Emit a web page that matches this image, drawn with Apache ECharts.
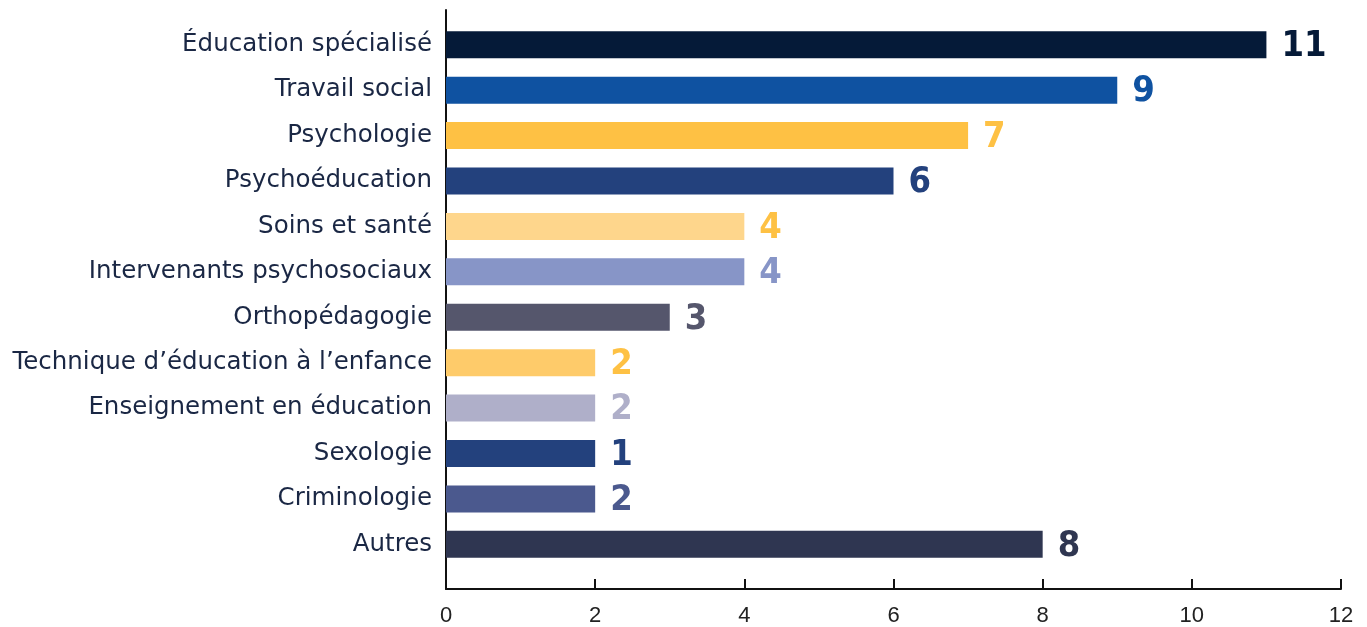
<!DOCTYPE html>
<html>
<head>
<meta charset="utf-8">
<script src="https://cdn.jsdelivr.net/npm/echarts@6/dist/echarts.min.js"></script>
<style>
  html, body { margin: 0; padding: 0; background: #fff; }
  #main { width: 1367px; height: 627px; }
</style>
</head>
<body>
<div id="main"></div>
<script>
// catégories (de haut en bas)
var categories = [
    "Éducation spécialisé", "Travail social", "Psychologie", "Psychoéducation",
    "Soins et santé", "Intervenants psychosociaux", "Orthopédagogie",
    "Technique d’éducation à l’enfance", "Enseignement en éducation",
    "Sexologie", "Criminologie", "Autres"
];
// longueur des barres
var barValues = [11, 9, 7, 6, 4, 4, 3, 2, 2, 2, 2, 8];
// étiquettes affichées au bout des barres
var barLabels = ["11", "9", "7", "6", "4", "4", "3", "2", "2", "1", "2", "8"];
var barColors = ["#051a38", "#0f52a1", "#fec144", "#23417d", "#fed68c", "#8795c7",
                 "#55566c", "#fecb6a", "#afafc9", "#23417d", "#4b598e", "#2f3651"];
var labelColors = ["#051a38", "#0f52a1", "#fec144", "#23417d", "#fec144", "#8795c7",
                   "#55566c", "#fec144", "#afafc9", "#23417d", "#4b598e", "#2f3651"];
var xTicks = [0, 2, 4, 6, 8, 10, 12];

var chart = echarts.init(document.getElementById("main"));

var data = barValues.map(function (v, i) {
    return {
        value: v,
        itemStyle: { color: barColors[i] },
        label: { color: labelColors[i] }
    };
});

var option = {
    animation: false,
    grid: [
        { left: 446, right: 26, top: 22, bottom: 60 },   // barres
        { left: 446, right: 26, top: 10, bottom: 35 }    // axes visibles
    ],
    xAxis: [
        { gridIndex: 0, type: "value", min: 0, max: 12, show: false },
        {
            gridIndex: 1, type: "value",
            min: xTicks[0], max: xTicks[xTicks.length - 1], interval: 2,
            axisLine: { show: true, lineStyle: { color: "#111", width: 2 } },
            axisTick: { show: true, inside: true, length: 10, lineStyle: { color: "#111", width: 2 } },
            axisLabel: { color: "#222", fontSize: 22, fontFamily: "Liberation Sans", margin: 16 },
            splitLine: { show: false }
        }
    ],
    yAxis: [
        {
            gridIndex: 0, type: "category", data: categories, inverse: true,
            axisLine: { show: false },
            axisTick: { show: false },
            axisLabel: {
                color: "#1a2744", fontSize: 24.5, fontFamily: "DejaVu Sans",
                margin: 14, padding: [4, 0, 0, 0]
            }
        },
        {
            gridIndex: 1, type: "value", min: 0, max: 1,
            axisLine: { show: true, lineStyle: { color: "#111", width: 2 } },
            axisTick: { show: false },
            axisLabel: { show: false },
            splitLine: { show: false }
        }
    ],
    series: [{
        type: "bar",
        xAxisIndex: 0,
        yAxisIndex: 0,
        data: data,
        barWidth: 27,
        label: {
            show: true,
            position: "right",
            distance: 15,
            offset: [0, 2],
            fontSize: 36,
            fontWeight: "bold",
            fontFamily: "DejaVu Sans Condensed, sans-serif",
            formatter: function (p) { return barLabels[p.dataIndex]; }
        }
    }]
};

chart.setOption(option);
</script>
</body>
</html>
